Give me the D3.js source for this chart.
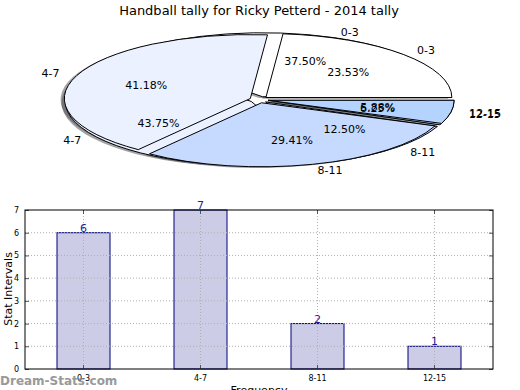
<!DOCTYPE html>
<html><head><meta charset="utf-8">
<script src="https://cdn.jsdelivr.net/npm/d3@7"></script>
<style>body{margin:0;background:#fff}svg{display:block;font-family:"DejaVu Sans",sans-serif}</style>
</head><body>
<svg id="c" width="520" height="390"></svg>
<script>
const categories = ["0-3","4-7","8-11","12-15"];
const seriesA = [6,7,2,1];     // bar values / first pie
const seriesB = [4,7,5,1];     // second pie (drawn on top)
const sliceColors = ["#ffffff","#ebf1ff","#c6d9ff","#b4d4ff"];
const yTicks = [0,1,2,3,4,5,6,7];
const title = "Handball tally for Ricky Petterd - 2014 tally";

const svg = d3.select("#c");
svg.append("text").attr("x",259).attr("y",15).attr("text-anchor","middle")
  .attr("font-size",13).text(title);

// ---------- Pie ----------
const C = {x:259, y:99.7}, rx = 186, ry = 64, k = ry/rx, explode = 0.05;
const pie = d3.pie().sort(null).startAngle(Math.PI/2).endAngle(Math.PI/2 - 2*Math.PI);
const arc = d3.arc().innerRadius(0).outerRadius(rx);
const pies = [pie(seriesA), pie(seriesB)];
const pg = svg.append("g").attr("transform",`translate(${C.x},${C.y}) scale(1,${k})`);
function off(d){ const m=(d.startAngle+d.endAngle)/2; return [explode*rx*Math.sin(m), -explode*rx*Math.cos(m)]; }
function shade(c){ const r=d3.rgb(c); return `rgba(${0.3*r.r},${0.3*r.g},${0.3*r.b},0.5)`; }
// shadows (below everything)
pies.forEach(arcs=>{
  pg.append("g").selectAll("path").data(arcs).join("path")
    .attr("d",arc)
    .attr("transform",d=>{const o=off(d);return `translate(${o[0]-0.02*rx},${o[1]+0.02*rx})`;})
    .attr("fill",(d,i)=>shade(sliceColors[i])).attr("stroke","none");
});
pies.forEach(arcs=>{
  pg.append("g").selectAll("path").data(arcs).join("path")
    .attr("d",arc)
    .attr("transform",d=>{const o=off(d);return `translate(${o[0]},${o[1]})`;})
    .attr("fill",(d,i)=>sliceColors[i]).attr("stroke","#000").attr("stroke-width",1)
    .attr("vector-effect","non-scaling-stroke").attr("stroke-linejoin","round");
});
// labels
pies.forEach((arcs,pi)=>{
  const tot = d3.sum(arcs,d=>d.value);
  arcs.forEach((d,i)=>{
    const m=(d.startAngle+d.endAngle)/2;
    const ox=explode*Math.sin(m), oy=explode*Math.cos(m);
    const lx = ox + 1.1*Math.sin(m), ly = oy + 1.1*Math.cos(m);
    svg.append("text").attr("x",C.x+lx*rx).attr("y",C.y-ly*ry)
      .attr("dy","0.35em").attr("font-size",11)
      .attr("text-anchor", lx>0?"start":"end").text(categories[i]);
    const px = ox + 0.6*Math.sin(m), py = oy + 0.6*Math.cos(m);
    svg.append("text").attr("x",C.x+px*rx).attr("y",C.y-py*ry)
      .attr("dy","0.35em").attr("font-size",11).attr("text-anchor","middle")
      .text((100*d.value/tot).toFixed(2)+"%");
  });
});

// ---------- Bars ----------
const L=25,R=493,T=210,B=369;
const x = d3.scaleBand().domain(categories).range([L,R]).paddingInner(0.547).paddingOuter(0.2735);
const y = d3.scaleLinear().domain([0,7]).range([B,T]);
const bg = svg.append("g");
bg.selectAll("rect").data(seriesA).join("rect")
  .attr("x",(d,i)=>x(categories[i])).attr("width",x.bandwidth())
  .attr("y",d=>y(d)).attr("height",d=>B-y(d))
  .attr("fill","#ccccе6".replace("е","e")).attr("stroke","#000080").attr("stroke-width",1);
// grid
const cx = c=>x(c)+x.bandwidth()/2;
bg.selectAll("line.gy").data(yTicks.slice(1,-1)).join("line")
  .attr("x1",L).attr("x2",R).attr("y1",d=>y(d)).attr("y2",d=>y(d))
  .attr("stroke","#b0b0b0").attr("stroke-dasharray","1,2");
bg.selectAll("line.gx").data(categories).join("line")
  .attr("x1",cx).attr("x2",cx).attr("y1",T).attr("y2",B)
  .attr("stroke","#b0b0b0").attr("stroke-dasharray","1,2");
// axes
const ax = svg.append("g").attr("font-size",8);
const yl = ax.append("g").attr("transform",`translate(${L},0)`).call(d3.axisLeft(y).tickValues(yTicks).tickSize(-4).tickPadding(6).tickFormat(d3.format("d")));
const yr = ax.append("g").attr("transform",`translate(${R},0)`).call(d3.axisRight(y).tickValues(yTicks).tickSize(-4).tickFormat(""));
const xb = ax.append("g").attr("transform",`translate(0,${B})`).call(d3.axisBottom(x).tickSize(-4).tickPadding(6));
const xt = ax.append("g").attr("transform",`translate(0,${T})`).call(d3.axisTop(x).tickSize(-4).tickFormat(""));
[yl,yr,xb,xt].forEach(g=>{g.select(".domain").remove(); g.selectAll("line").attr("stroke","#555"); g.selectAll("text").attr("font-family","DejaVu Sans").attr("font-size",8);});
svg.append("rect").attr("x",L).attr("y",T).attr("width",R-L).attr("height",B-T)
  .attr("fill","none").attr("stroke","#000").attr("stroke-width",1);
// value labels
svg.append("g").selectAll("text").data(seriesA).join("text")
  .attr("x",(d,i)=>cx(categories[i])).attr("y",d=>y(d)-1)
  .attr("text-anchor","middle").attr("font-size",11).attr("fill","#1c1c9c").text(d=>d);
svg.append("text").attr("transform","translate(12,289) rotate(-90)").attr("text-anchor","middle")
  .attr("font-size",11).text("Stat Intervals");
svg.append("text").attr("x",259).attr("y",394).attr("text-anchor","middle").attr("font-size",11).text("Frequency");
svg.append("text").attr("x",0).attr("y",385).attr("font-size",12).attr("font-weight","bold")
  .attr("fill","#888").attr("opacity",0.85).text("Dream-Stats.com");
</script>
</body></html>
